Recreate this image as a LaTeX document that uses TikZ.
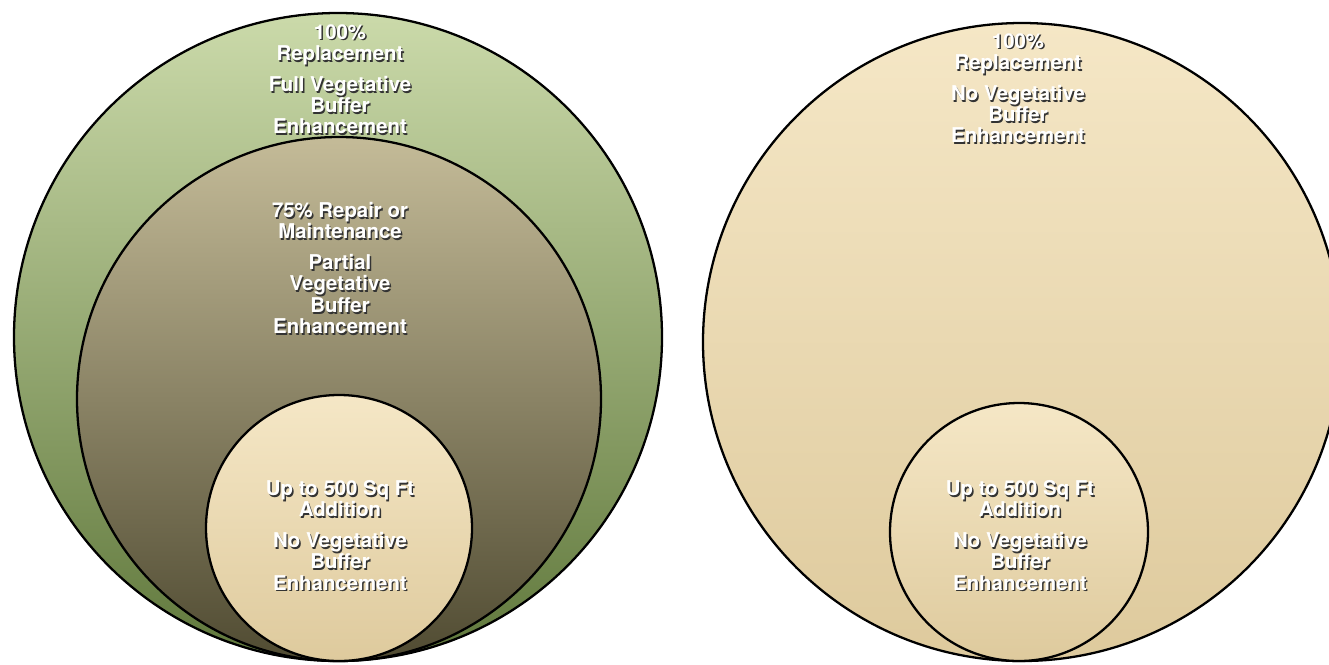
\documentclass[tikz,border=0pt]{standalone}
\usepackage{fontspec}
\setmainfont{TeX Gyre Heros}

\definecolor{greentop}{RGB}{203,218,170}
\definecolor{greenbot}{RGB}{96,120,60}
\definecolor{mudtop}{RGB}{196,187,152}
\definecolor{mudbot}{RGB}{80,75,50}
\definecolor{sandtop}{RGB}{245,231,198}
\definecolor{sandbot}{RGB}{222,202,157}

\tikzset{
    ring/.style={draw=black, line width=1.3pt, shading=axis},
    lbl/.style={align=center, anchor=north, inner sep=0pt, text=white,
        font=\fontsize{11.6}{12.1}\selectfont\bfseries},
}

% white label with a dark drop shadow under it
\newcommand\shadowlabel[3]{%
    \node[lbl, text=black!80, xshift=0.8pt, yshift=-1pt] (#1-shadow) at (#2) {#3};
    \node[lbl] (#1) at (#2) {#3};
}

\begin{document}
\begin{tikzpicture}[x=0.02cm, y=-0.02cm]
    \clip (0,0) rectangle (1329,664);

    % left set: replacement, repair, addition
    \draw[ring, top color=greentop, bottom color=greenbot] (338,337) circle (324);
    \draw[ring, top color=mudtop, bottom color=mudbot] (339,399) circle (262);
    \draw[ring, top color=sandtop, bottom color=sandbot] (339,528) circle (133);

    % right set: replacement, addition
    \draw[ring, top color=sandtop, bottom color=sandbot] (1022,342) circle (319);
    \draw[ring, top color=sandtop, bottom color=sandbot] (1019,532) circle (129);

    \shadowlabel{replL}{340,24}{100\%\\Replacement\\[5.5pt]Full Vegetative\\Buffer\\Enhancement}
    \shadowlabel{repair}{340,202}{75\% Repair or\\Maintenance\\[5.5pt]Partial\\Vegetative\\Buffer\\Enhancement}
    \shadowlabel{addL}{340,480}{Up to 500 Sq Ft\\Addition\\[5.5pt]No Vegetative\\Buffer\\Enhancement}
    \shadowlabel{replR}{1018,33}{100\%\\Replacement\\[5.5pt]No Vegetative\\Buffer\\Enhancement}
    \shadowlabel{addR}{1020,480}{Up to 500 Sq Ft\\Addition\\[5.5pt]No Vegetative\\Buffer\\Enhancement}
\end{tikzpicture}
\end{document}
